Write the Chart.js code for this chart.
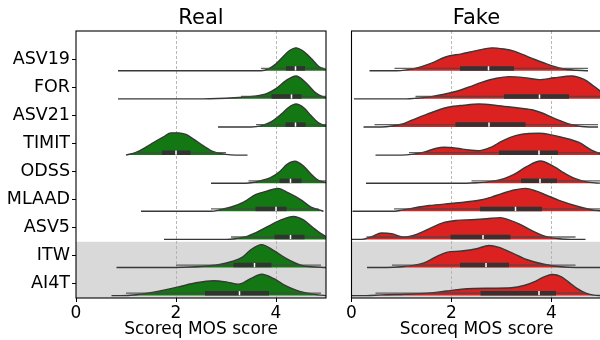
<!DOCTYPE html>
<html>
<head>
<meta charset="utf-8">
<script src="https://cdn.jsdelivr.net/npm/chart.js@4.4.1/dist/chart.umd.min.js"></script>
<style>
    html, body { margin: 0; padding: 0; background: #fff; overflow: hidden; width: 600px; height: 340px; }
    .panel { position: absolute; top: 0; }
</style>
</head>
<body>
<div class="panel" style="left:0px"><canvas id="realCanvas" width="340" height="340"></canvas></div>
<div class="panel" style="left:300px"><canvas id="fakeCanvas" width="310" height="340"></canvas></div>
<script>
// ---------------- Data ---------------------------------------------------
const categories       = [ 'ASV19', 'FOR', 'ASV21', 'TIMIT', 'ODSS', 'MLAAD', 'ASV5', 'ITW', 'AI4T' ] ;
const shadedCategories = [ 'ITW', 'AI4T' ] ;
const xTicks           = [ 0, 2, 4 ] ;
const axisTitle        = 'Scoreq MOS score' ;

// ---- Real : range of the flat line, box plot stats, density knots [x, rel. height]
const realMin   = [ 0.84, 0.84, 2.84, 1.00, 2.70, 1.30, 1.76, 0.81, 0.71 ] ;
const realMax   = [ 5.00, 5.00, 5.00, 3.43, 5.00, 4.95, 5.00, 5.00, 5.00 ] ;
const realWLo   = [ 3.70, 3.30, 3.60, 1.20, 3.45, 2.70, 3.10, 2.00, 1.00 ] ;
const realQ1    = [ 4.20, 3.91, 4.19, 1.72, 4.07, 3.59, 3.97, 3.15, 2.58 ] ;
const realMed   = [ 4.39, 4.31, 4.39, 2.00, 4.29, 4.00, 4.29, 3.57, 3.27 ] ;
const realQ3    = [ 4.58, 4.51, 4.59, 2.29, 4.51, 4.21, 4.57, 3.91, 3.86 ] ;
const realWHi   = [ 4.97, 5.00, 5.00, 3.00, 5.00, 4.85, 5.00, 4.90, 4.90 ] ;
const realDensity = [
    [[3.7,0],[3.85,0.08],[4.0,0.3],[4.1,0.52],[4.25,0.85],[4.4,1],[4.55,0.85],[4.7,0.55],[4.85,0.2],[5.0,0.05]],
    [[2.4,0],[3.0,0.03],[3.4,0.08],[3.8,0.22],[4.0,0.45],[4.2,0.8],[4.4,1],[4.6,0.7],[4.8,0.25],[5.0,0.04]],
    [[3.5,0],[3.7,0.05],[3.9,0.22],[4.1,0.55],[4.25,0.85],[4.4,1],[4.55,0.85],[4.7,0.5],[4.85,0.18],[5.0,0.04]],
    [[1.0,0],[1.2,0.12],[1.4,0.35],[1.55,0.55],[1.75,0.8],[1.9,0.97],[2.05,0.97],[2.2,0.9],[2.35,0.7],[2.55,0.4],[2.75,0.15],[3.0,0.03],[3.2,0]],
    [[3.4,0],[3.6,0.05],[3.75,0.14],[3.9,0.25],[4.07,0.5],[4.22,0.82],[4.38,0.96],[4.55,0.75],[4.7,0.4],[4.85,0.12],[5.0,0.03]],
    [[2.7,0],[2.9,0.08],[3.15,0.22],[3.35,0.4],[3.6,0.74],[3.8,0.87],[4.04,1],[4.25,0.8],[4.5,0.5],[4.7,0.18],[4.9,0.04]],
    [[3.0,0],[3.2,0.04],[3.4,0.12],[3.6,0.3],[3.85,0.58],[4.1,0.85],[4.35,1],[4.55,0.85],[4.75,0.5],[4.9,0.25],[5.0,0.12]],
    [[1.8,0],[2.4,0.03],[2.87,0.13],[3.1,0.25],[3.33,0.45],[3.5,0.78],[3.71,1],[3.95,0.75],[4.2,0.4],[4.5,0.1],[4.8,0.02],[4.95,0]],
    [[0.9,0],[1.2,0.04],[1.55,0.15],[2.05,0.38],[2.4,0.56],[2.75,0.65],[3.0,0.6],[3.25,0.5],[3.5,0.75],[3.71,0.93],[3.95,0.75],[4.15,0.48],[4.4,0.24],[4.6,0.12],[4.85,0.03],[5.0,0]]
] ;

// ---- Fake
const fakeMin   = [ 0.36, 0.05, 0.24, 0.48, 0.29, 0.02, 0.01, 0.31, 0.01 ] ;
const fakeMax   = [ 4.73, 5.00, 4.93, 5.00, 5.00, 5.00, 4.68, 5.00, 5.00 ] ;
const fakeWLo   = [ 0.86, 1.28, 0.46, 1.15, 2.40, 0.85, 0.30, 0.81, 0.48 ] ;
const fakeQ1    = [ 2.17, 3.05, 2.08, 2.95, 3.39, 2.57, 1.98, 2.17, 2.58 ] ;
const fakeMed   = [ 2.74, 3.76, 2.75, 3.75, 3.77, 3.28, 2.63, 2.69, 3.75 ] ;
const fakeQ3    = [ 3.25, 4.35, 3.48, 4.13, 4.11, 3.81, 3.18, 3.15, 4.09 ] ;
const fakeWHi   = [ 4.73, 5.00, 4.93, 5.00, 5.00, 5.00, 4.48, 4.48, 4.68 ] ;
const fakeDensity = [
    [[0.9,0],[1.1,0.04],[1.35,0.15],[1.6,0.33],[1.88,0.6],[2.2,0.74],[2.5,0.88],[2.81,1],[3.05,0.95],[3.25,0.86],[3.6,0.55],[3.9,0.3],[4.2,0.1],[4.5,0.02],[4.7,0]],
    [[1.1,0],[1.3,0.03],[1.6,0.1],[1.85,0.2],[2.08,0.32],[2.35,0.52],[2.6,0.72],[2.9,0.9],[3.15,0.97],[3.45,0.93],[3.75,0.84],[4.05,0.92],[4.4,1],[4.65,0.85],[4.85,0.55],[5.0,0.3]],
    [[0.6,0],[0.8,0.04],[1.0,0.12],[1.21,0.3],[1.5,0.55],[1.93,0.86],[2.25,0.95],[2.55,1],[2.9,0.94],[3.21,0.86],[3.61,0.75],[3.8,0.62],[4.0,0.43],[4.2,0.25],[4.4,0.1],[4.6,0.02],[4.75,0]],
    [[1.0,0],[1.2,0.03],[1.45,0.13],[1.7,0.3],[1.85,0.34],[2.1,0.3],[2.35,0.22],[2.55,0.19],[2.8,0.35],[3.0,0.6],[3.3,0.86],[3.55,0.94],[3.75,0.95],[4.0,0.88],[4.2,0.78],[4.55,0.55],[4.8,0.22],[5.0,0.03]],
    [[2.3,0],[2.5,0.02],[2.8,0.08],[3.05,0.2],[3.25,0.38],[3.5,0.72],[3.78,0.97],[4.05,0.72],[4.25,0.45],[4.45,0.22],[4.7,0.06],[4.9,0.01],[5.0,0]],
    [[0.8,0],[1.0,0.05],[1.25,0.15],[1.55,0.25],[2.08,0.36],[2.55,0.48],[2.8,0.62],[3.0,0.77],[3.25,0.93],[3.48,1],[3.7,0.88],[3.9,0.7],[4.15,0.48],[4.55,0.2],[4.8,0.07],[5.0,0.02]],
    [[0.2,0],[0.4,0.12],[0.6,0.28],[0.8,0.25],[1.05,0.1],[1.3,0.22],[1.55,0.46],[1.85,0.74],[2.1,0.83],[2.4,0.86],[2.7,0.9],[2.98,0.95],[3.15,0.85],[3.35,0.68],[3.6,0.39],[3.9,0.12],[4.2,0.02],[4.4,0]],
    [[0.7,0],[1.0,0.03],[1.2,0.08],[1.45,0.2],[1.7,0.48],[1.9,0.66],[2.2,0.72],[2.5,0.82],[2.75,0.96],[2.95,0.88],[3.2,0.65],[3.5,0.35],[3.85,0.14],[4.2,0.03],[4.5,0]],
    [[0.3,0],[0.6,0.03],[1.2,0.07],[1.6,0.12],[1.9,0.2],[2.2,0.28],[2.45,0.31],[2.8,0.32],[3.2,0.34],[3.45,0.44],[3.65,0.6],[3.85,0.82],[4.02,0.92],[4.2,0.82],[4.35,0.58],[4.5,0.33],[4.7,0.1],[4.85,0.02],[5.0,0]]
] ;

// ---------------- Layout constants (row units) ---------------------------
const BASE_OFFSET  = 0.415 ;   // ridge baseline below the category tick
const RIDGE_HEIGHT = 0.815 ;   // height of a density with rel. height 1
const BOX_LIFT     = 0.085 ;   // box centre above the baseline

const FONT = 'DejaVu Sans' ;

// ---------------- Dataset creation ---------------------------------------
function buildDatasets( density, lows, highs, wLo, q1, med, q3, wHi, fillColor ) {

    var sets = [] ;
    categories.forEach( function( cat, i ) {

        var base  = i + BASE_OFFSET ;
        var knots = density[i] ;
        var pts   = [] ;

        if( lows[i] < knots[0][0] ) {
            pts.push( { x: lows[i], y: base } ) ;
        }
        knots.forEach( function( k ) {
            pts.push( { x: k[0], y: base - k[1] * RIDGE_HEIGHT } ) ;
        } ) ;
        if( highs[i] > knots[knots.length-1][0] ) {
            pts.push( { x: highs[i], y: base } ) ;
        }

        sets.push( {
            name            : cat + '-density',
            data            : pts,
            fill            : { value: base },
            backgroundColor : fillColor,
            borderColor     : '#383838',
            borderWidth     : 1.4,
            pointRadius     : 0,
            tension         : 0.4,
            cubicInterpolationMode : 'monotone',
            order           : 3
        } ) ;

        var boxY = base - BOX_LIFT ;
        sets.push( {
            name        : cat + '-whisker',
            data        : [ { x: wLo[i], y: boxY }, { x: wHi[i], y: boxY } ],
            borderColor : 'rgba(70,70,70,0.85)',
            borderWidth : 1.3,
            pointRadius : 0,
            fill        : false,
            order       : 2
        } ) ;
        sets.push( {
            name           : cat + '-box',
            data           : [ { x: q1[i], y: boxY }, { x: q3[i], y: boxY } ],
            borderColor    : 'rgba(50,50,50,0.95)',
            borderWidth    : 4.5,
            borderCapStyle : 'butt',
            pointRadius    : 0,
            fill           : false,
            order          : 1
        } ) ;
        sets.push( {
            name           : cat + '-median',
            data           : [ { x: med[i], y: boxY + 0.075 }, { x: med[i], y: boxY - 0.075 } ],
            borderColor    : '#ffffff',
            borderWidth    : 1.5,
            borderCapStyle : 'butt',
            pointRadius    : 0,
            fill           : false,
            order          : 0
        } ) ;
    } ) ;
    return sets ;
}

// ---------------- Plugins -------------------------------------------------
var bandPlugin = {
    id : 'band',
    beforeDraw : function( chart ) {
        var area = chart.chartArea ;
        var ys   = chart.scales.y ;
        var idx  = shadedCategories.map( function( c ) { return categories.indexOf( c ) ; } ) ;
        var top  = Math.max( area.top,    ys.getPixelForValue( Math.min.apply( null, idx ) - 0.5 ) ) ;
        var bot  = Math.min( area.bottom, ys.getPixelForValue( Math.max.apply( null, idx ) + 0.5 ) ) ;
        var ctx  = chart.ctx ;
        ctx.save() ;
        ctx.fillStyle = '#d9d9d9' ;
        ctx.fillRect( area.left, top, area.right - area.left, bot - top ) ;
        ctx.restore() ;
    }
} ;

var framePlugin = {
    id : 'frame',
    afterDraw : function( chart, args, opts ) {
        var area = chart.chartArea ;
        var ctx  = chart.ctx ;
        ctx.save() ;
        ctx.strokeStyle = '#000' ;
        ctx.lineWidth = 1.1 ;
        ctx.strokeRect( area.left, area.top, area.right - area.left, area.bottom - area.top ) ;

        ctx.fillStyle = '#000' ;
        ctx.font = '21px "' + FONT + '"' ;
        ctx.textAlign = 'center' ;
        ctx.textBaseline = 'middle' ;
        ctx.fillText( opts.text, ( area.left + area.right ) / 2, 19 ) ;
        ctx.restore() ;
    }
} ;

// ---------------- Graph options -------------------------------------------
function getChartOptions( title, showLabels, yWidth, rightPad ) {

    return {
        responsive : false,
        animation  : false,
        events     : [],
        layout     : { padding: { top: 31, right: rightPad, left: 0, bottom: 0 } },
        plugins    : {
            legend  : { display: false },
            tooltip : { enabled: false },
            frame   : { text: title }
        },
        scales : {
            x : {
                type : 'linear',
                min  : 0,
                max  : 5,
                afterBuildTicks : function( scale ) {
                    scale.ticks = xTicks.map( function( v ) { return { value: v } ; } ) ;
                },
                afterFit : function( scale ) { scale.height = 42 ; },
                ticks : {
                    color   : '#000',
                    padding : 1,
                    maxRotation : 0,
                    font    : { family: FONT, size: 17 }
                },
                grid : {
                    color : function( ctx ) {
                        return ( ctx.tick && ctx.tick.value === 0 ) ? 'rgba(0,0,0,0)' : '#b0b0b0' ;
                    },
                    lineWidth      : 0.9,
                    borderDash     : [ 3, 2 ],
                    tickBorderDash : [],
                    tickColor      : '#000',
                    tickLength     : 4,
                    tickWidth      : 1
                },
                border : { display: false, dash: [ 3, 2 ] },
                title  : {
                    display : true,
                    text    : axisTitle,
                    color   : '#000',
                    padding : 0,
                    font    : { family: FONT, size: 17 }
                }
            },
            y : {
                type    : 'linear',
                reverse : true,
                min     : -1,
                max     : 8.5,
                afterBuildTicks : function( scale ) {
                    scale.ticks = categories.map( function( c, i ) { return { value: i } ; } ) ;
                },
                afterFit : function( scale ) { scale.width = yWidth ; },
                ticks : {
                    display  : showLabels,
                    color    : '#000',
                    padding  : 2,
                    font     : { family: FONT, size: 17.5 },
                    callback : function( v ) { return categories[v] ; }
                },
                grid : {
                    display         : showLabels,
                    drawOnChartArea : false,
                    tickColor       : '#000',
                    tickLength      : 4,
                    tickWidth       : 1
                },
                border : { display: false }
            }
        }
    } ;
}

function drawChart( canvasId, title, datasets, showLabels, yWidth, rightPad ) {
    var canvas = document.getElementById( canvasId ) ;
    return new Chart( canvas, {
        type    : 'line',
        data    : { datasets: datasets },
        options : getChartOptions( title, showLabels, yWidth, rightPad ),
        plugins : [ bandPlugin, framePlugin ]
    } ) ;
}

drawChart( 'realCanvas', 'Real',
           buildDatasets( realDensity, realMin, realMax, realWLo, realQ1, realMed, realQ3, realWHi, '#137813' ),
           true, 76, 14 ) ;

drawChart( 'fakeCanvas', 'Fake',
           buildDatasets( fakeDensity, fakeMin, fakeMax, fakeWLo, fakeQ1, fakeMed, fakeQ3, fakeWHi, '#dc2121' ),
           false, 51.5, 8.5 ) ;
</script>
</body>
</html>
